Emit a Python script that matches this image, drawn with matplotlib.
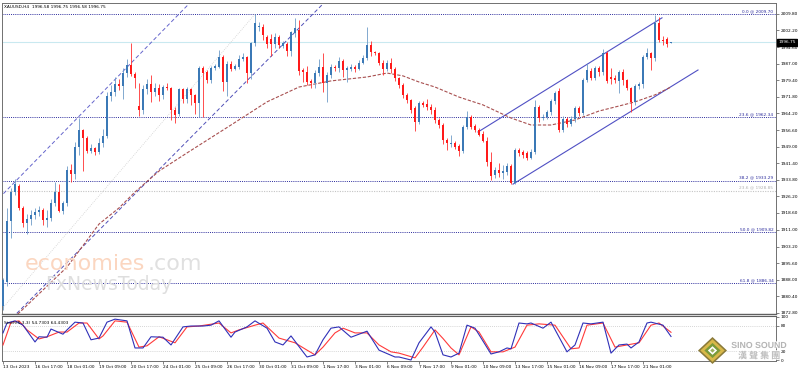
import matplotlib
matplotlib.use("Agg")
import matplotlib.pyplot as plt
import matplotlib.patheffects as pe
import matplotlib.transforms as mtransforms
from matplotlib.patches import Polygon
import numpy as np

plt.rcParams['font.family'] = ['DejaVu Sans']

# ---------------- data ----------------
opens = [
    1876, 1887, 1915, 1928, 1931, 1921, 1914, 1916, 1917.5, 1919,
    1920, 1915.5, 1916.5, 1923, 1928, 1919.5, 1923, 1938.5, 1936.5, 1949,
    1956.5, 1953, 1947, 1948.5, 1946.5, 1950.5, 1953.8, 1972, 1974, 1977.6,
    1976.7, 1982.8, 1986.4, 1982.3, 1967.5, 1966, 1975.5, 1977.5, 1974, 1976,
    1972.5, 1976.2, 1975.8, 1966, 1964, 1975.5, 1970.8, 1975.5, 1972.5, 1969,
    1985, 1983, 1979.5, 1985, 1985.5, 1990, 1978.8, 1987, 1984.5, 1985.5,
    1989, 1990, 1982.5, 1996.5, 2003.8, 2004, 1999, 1998.5, 1996, 1999,
    1995, 1996, 1992.8, 2001, 2002.5, 1984, 1983, 1979, 1978, 1982.7,
    1985.5, 1978, 1981.8, 1985.5, 1984.8, 1988, 1984.3, 1984.5, 1985.5, 1984.5,
    1987.5, 1989.6, 1995.5, 1992.3, 1991.8, 1987.5, 1984.5, 1987.5, 1984.5, 1980.5,
    1977.2, 1972.6, 1970.4, 1966.5, 1960.3, 1969, 1968.5, 1967, 1966, 1961.2,
    1959, 1952, 1950, 1950.8, 1949.5, 1947, 1958, 1962.6, 1958.5, 1956.6,
    1955, 1951.6, 1942, 1936, 1938.3, 1937, 1937.5, 1940, 1932.5, 1947.5,
    1946.5, 1946, 1944, 1946.5, 1967, 1962, 1962.5, 1964.8, 1969.8, 1974.5,
    1956.6, 1961.5, 1959.5, 1961.5, 1966.7, 1964.5, 1979.5, 1983.5, 1980.5, 1985,
    1983, 1992, 1981, 1980.5, 1979, 1983, 1979.5, 1975.8, 1969.3, 1976.8,
    1977.5, 1990, 1992, 1989.5, 2005.8, 1998, 1998.5, 1996.58]
highs = [
    1889, 1921, 1930, 1934, 1932, 1922, 1918, 1920, 1921, 1922,
    1921, 1920, 1925, 1933, 1932, 1924, 1940, 1941, 1951, 1962,
    1957, 1954, 1950, 1949, 1953, 1957, 1974, 1977, 1981, 1980,
    1985, 1989, 1996.5, 1983, 1978, 1977, 1980, 1982, 1978, 1977.5,
    1977, 1978, 1976.5, 1967, 1976, 1976, 1976.5, 1976, 1973, 1986,
    1986, 1984, 1986, 1987, 1993.3, 1991, 1988, 1988, 1987, 1991,
    1992, 1990.5, 1997, 2009.7, 2006, 2005, 2000, 2000.5, 2001, 2000,
    1997.5, 1997, 2002, 2008, 2007, 1985, 1986, 1980, 1984, 1989,
    1992, 1983, 1987, 1986.5, 1990, 1989, 1986, 1987, 1986.5, 1988.5,
    1991, 2004, 1997.5, 1993, 1992.5, 1988.5, 1988.5, 1989.5, 1985.5, 1981,
    1978, 1973.5, 1971, 1967.5, 1970, 1970, 1971, 1968.5, 1967, 1962,
    1960, 1953, 1954.5, 1951.5, 1950, 1959, 1965.5, 1963.5, 1959.5, 1957.5,
    1956, 1953.5, 1946.5, 1939.5, 1941.5, 1940.5, 1941.5, 1941, 1948.5, 1948.5,
    1947.5, 1947, 1948, 1970.5, 1968, 1964, 1966, 1971, 1974.5, 1976,
    1963, 1962.5, 1963, 1967.5, 1967.5, 1980.5, 1987.3, 1985, 1986, 1986,
    1993.5, 1993, 1985, 1982, 1984, 1984.5, 1980, 1976.5, 1977.5, 1978.5,
    1991, 1994, 1992.5, 2009.3, 2008.5, 1999.5, 1999, 1996.75]
lows = [
    1874, 1885, 1907, 1927, 1920, 1912, 1909, 1913, 1916, 1917,
    1913, 1912, 1915, 1922, 1919, 1918, 1922, 1933, 1934, 1945,
    1938, 1946, 1946, 1945, 1945.5, 1949, 1953, 1970, 1972, 1975,
    1971, 1981, 1981.5, 1976, 1963, 1964, 1973, 1969.5, 1972, 1970,
    1971, 1975, 1961, 1959.7, 1963, 1969, 1969, 1968, 1964, 1962.5,
    1962.5, 1978, 1978, 1984, 1985, 1974.5, 1972, 1983.5, 1984, 1984.5,
    1988, 1978, 1980, 1995, 2002, 1998, 1994, 1990.5, 1994, 1994,
    1994, 1990.5, 1990.5, 1999, 1982, 1978.6, 1977, 1976, 1976, 1981.5,
    1974, 1969.5, 1980.5, 1983.5, 1983, 1981, 1978.6, 1983.5, 1983, 1984,
    1987, 1988.5, 1990.5, 1991, 1986.5, 1982, 1983.5, 1982.5, 1979, 1976,
    1971.5, 1969, 1964.5, 1956, 1959.5, 1967, 1966, 1964, 1960, 1957.5,
    1950, 1947.5, 1948.7, 1948, 1944.5, 1946, 1957, 1957, 1955.5, 1954,
    1951, 1940, 1933.7, 1934.5, 1935, 1934, 1936, 1932, 1931.8, 1944.5,
    1944, 1943, 1943.5, 1945.5, 1960.5, 1961, 1961.5, 1963.5, 1968.5, 1955.5,
    1955.5, 1958, 1958.5, 1960.5, 1963, 1963.5, 1978.5, 1979.5, 1979.5, 1981.5,
    1982, 1978, 1977.6, 1978, 1973.5, 1977, 1975, 1965, 1968, 1975.5,
    1976, 1989, 1984, 1988, 1997, 1995.5, 1994.5, 1996.58]
closes = [
    1888, 1915, 1928, 1932, 1921, 1914, 1916, 1917.5, 1919, 1920,
    1915.5, 1916.5, 1923, 1928, 1919.5, 1923, 1938.5, 1936.5, 1949, 1956.5,
    1953, 1947, 1948.5, 1946.5, 1950.5, 1953.8, 1972, 1974, 1977.6, 1976.7,
    1982.8, 1986.4, 1982.3, 1980.5, 1966, 1975.5, 1977.5, 1974, 1976, 1972.5,
    1976.2, 1975.8, 1966, 1963.5, 1975.5, 1970.8, 1975.5, 1972.5, 1969, 1985,
    1982.5, 1979.5, 1985, 1986, 1990, 1978.8, 1987, 1984.5, 1986, 1989,
    1990, 1982.5, 1996.5, 2005.6, 2004.3, 2000, 1996, 1996, 1999, 1995.5,
    1996.5, 1992.8, 2001.4, 2003.5, 1983.6, 1983, 1978.8, 1978, 1982.7, 1985.5,
    1978, 1981.8, 1985.5, 1984.8, 1988, 1984.3, 1984.8, 1985.5, 1984.5, 1987.5,
    1989.6, 1995.5, 1992.3, 1991.8, 1987.5, 1984.5, 1987.5, 1984.5, 1980.5, 1977.2,
    1972.6, 1970.4, 1965.8, 1960.3, 1969, 1968, 1967, 1966, 1961.2, 1959,
    1952, 1950.5, 1950.8, 1949, 1947, 1958, 1962.6, 1958, 1956.5, 1954.5,
    1951.6, 1942, 1935.5, 1938.3, 1937, 1938, 1940, 1932.5, 1947.5, 1946,
    1945, 1944, 1946.5, 1967, 1962, 1962.5, 1964.8, 1969.8, 1973.5, 1956.6,
    1961.5, 1959.5, 1961.5, 1966.7, 1964.5, 1979.5, 1984, 1980.5, 1985, 1983,
    1992, 1979, 1980, 1979.6, 1983, 1979.5, 1975.8, 1969.3, 1976.8, 1977.5,
    1990, 1992, 1989.5, 2005.8, 1998, 1997.5, 1996, 1996.75]

# moving average (read at selected bars)
ma_bars = [0, 4, 16, 24, 29, 33, 39, 46, 57, 66, 74, 82, 91, 96, 100, 104, 108,
           114, 120, 127, 132, 137, 143, 149, 154, 158, 163, 167]
ma_vals = [1866, 1872.8, 1893.8, 1913.5, 1920.9, 1928.2, 1937.8, 1946.1, 1958.9,
           1969.5, 1976.3, 1979.1, 1980.9, 1982.7, 1981.4, 1978.6, 1976.3, 1971.7,
           1968.1, 1962.1, 1958.9, 1958.9, 1961.2, 1965.3, 1967.6, 1969.5, 1972.7,
           1976.3]

# stochastic oscillator (read at selected bars)
stoch_main_bars = [0, 1, 3, 5, 8, 9, 11, 12, 15, 16, 18, 20, 22, 24, 26, 28, 31, 33, 35, 37,
                   40, 42, 45, 47, 50, 52, 54, 57, 58, 61, 63, 66, 68, 70, 72, 75, 76, 78, 80, 82,
                   84, 87, 91, 94, 98, 99, 102, 104, 107, 108, 110, 112, 114, 116, 118, 122, 124,
                   126, 127, 129, 131, 132, 135, 137, 141, 143, 145, 147, 150, 152, 154, 156, 157,
                   159, 161, 162, 165, 167]
stoch_main_vals = [63, 86, 91, 81, 42, 54, 53, 72, 60, 70, 88, 86, 47, 51, 88, 95, 91, 28, 28, 54,
                   53, 35, 77, 79, 79, 81, 91, 53, 65, 77, 91, 74, 42, 35, 56, 19, 7, 12, 47, 74,
                   77, 53, 67, 23, 7, 7, 0, 40, 77, 65, 12, 7, 16, 81, 74, 14, 19,
                   28, 26, 86, 84, 86, 74, 88, 19, 35, 86, 84, 88, 16, 35, 37, 28,
                   42, 86, 88, 81, 54.73]
stoch_sig_bars = [0, 2, 4, 6, 9, 11, 14, 16, 19, 21, 24, 25, 28, 31, 34, 36, 39, 43, 46, 49,
                  54, 57, 59, 63, 65, 69, 73, 76, 78, 80, 83, 85, 88, 91, 94, 97, 99, 103, 105, 108,
                  110, 112, 114, 117, 119, 122, 125, 128, 131, 134, 138, 142, 144, 146, 150, 153,
                  156, 159, 162, 164, 167]
stoch_sig_vals = [35, 88, 91, 70, 49, 54, 65, 65, 86, 86, 49, 56, 91, 88, 30, 33, 54, 40, 77, 79,
                  86, 63, 70, 81, 86, 51, 40, 23, 12, 30, 63, 74, 63, 63, 35, 19, 16, 5, 30, 70,
                  50, 28, 12, 77, 65, 19, 19, 30, 81, 84, 81, 26, 28, 81, 86, 30,
                  35, 40, 81, 86, 64.43]

# fibonacci levels
fib_prices = [2009.70, 1962.34, 1933.29, 1909.82, 1886.34]
fib_labels = ["0.0 @ 2009.70", "23.6 @ 1962.34", "38.2 @ 1933.29", "50.0 @ 1909.82", "61.8 @ 1886.34"]
fib2_prices = [1928.85]
fib2_labels = ["23.6 @ 1928.85"]

# channel / trend anchors (bar, price)
left_up_bars, left_up_prices = [-2, 50], [1923.5, 2021.0]
left_lo_bars, left_lo_prices = [-2, 80], [1862.5, 2014.4]
fib_trend_bars, fib_trend_prices = [-31, 63], [1809.0, 2009.7]
right_up_bars, right_up_prices = [118.75, 164.75], [1955.7, 2008.0]
right_lo_bars, right_lo_prices = [127.5, 173.75], [1931.8, 1984.1]

current_price = 1996.75
price_ticks = [2009.80, 2002.20, 1994.60, 1987.00, 1979.40, 1971.80, 1964.20, 1956.60,
               1949.00, 1941.40, 1933.80, 1926.20, 1918.60, 1911.00, 1903.20, 1895.60,
               1888.00, 1880.40, 1872.80]
date_bars = list(range(0, 161, 8))
date_labels = ["13 Oct 2023", "16 Oct 17:00", "18 Oct 01:00", "19 Oct 09:00", "20 Oct 17:00",
               "24 Oct 01:00", "25 Oct 09:00", "26 Oct 17:00", "30 Oct 01:00", "31 Oct 09:00",
               "1 Nov 17:00", "3 Nov 01:00", "6 Nov 09:00", "7 Nov 17:00", "9 Nov 01:00",
               "10 Nov 09:00", "13 Nov 17:00", "15 Nov 01:00", "16 Nov 09:00", "17 Nov 17:00",
               "21 Nov 01:00"]
stoch_ticks = [0, 20, 80, 100]

# ---------------- figure ----------------
W, H = 798, 372
fig = plt.figure(figsize=(W / 100, H / 100), dpi=100)
fig.patch.set_facecolor('white')


def box(x0, y0, x1, y1):
    return [x0 / W, 1 - y1 / H, (x1 - x0) / W, (y1 - y0) / H]


ax = fig.add_axes(box(2, 3, 776, 314))
axs = fig.add_axes(box(2, 316, 776, 361))
XMIN, XMAX = -0.25, 193.25
for a in (ax, axs):
    a.set_xlim(XMIN, XMAX)
    a.set_facecolor('white')
    for s in a.spines.values():
        s.set_color('#707070')
        s.set_linewidth(0.7)
ax.spines['bottom'].set_linewidth(1.0)
ax.spines['bottom'].set_color('#606060')
axs.spines['top'].set_linewidth(0.8)
axs.spines['top'].set_color('#606060')
ax.set_ylim(1872.3, 2014.8)
axs.set_ylim(-2.3, 102.3)

TS = 3.1
navy = '#2a2a9c'

# fibonacci horizontal lines
for p, lab in zip(fib_prices, fib_labels):
    ax.axhline(p, color=navy, lw=0.7, ls=(0, (1.0, 1.2)), zorder=1)
    ax.text(192.6, p + 0.5, lab, ha='right', va='bottom', fontsize=TS, color=navy, zorder=6)
for p, lab in zip(fib2_prices, fib2_labels):
    ax.axhline(p, color='#c4c4c4', lw=0.8, ls=(0, (1.0, 1.2)), zorder=1)
    ax.text(192.6, p + 0.5, lab, ha='right', va='bottom', fontsize=TS, color='#b0b0b0', zorder=6)

# current price line
ax.axhline(current_price, color='#c9e9f0', lw=0.8, zorder=1)

# trend lines / channels
ax.plot(fib_trend_bars, fib_trend_prices, color='#d0d0d0', lw=0.6, ls=(0, (1, 1.5)), zorder=1)
ax.plot(left_up_bars, left_up_prices, color='#6565cc', lw=0.7, ls=(0, (4, 2.5)), zorder=2)
ax.plot(left_lo_bars, left_lo_prices, color='#5050b8', lw=0.7, ls=(0, (4, 2.5)), zorder=2)
ax.plot(right_up_bars, right_up_prices, color='#5050c4', lw=0.8, zorder=2)
ax.plot(right_lo_bars, right_lo_prices, color='#5050c4', lw=0.8, zorder=2)

# moving average
ax.plot(ma_bars, ma_vals, color='#a85050', lw=0.8, ls=(0, (3, 1.5)), zorder=2)

# candles
o = np.array(opens); h = np.array(highs); l = np.array(lows); c = np.array(closes)
xs = np.arange(len(c))
up = c >= o
body_col = np.where(up, '#3b79b6', '#ff1a1a')
wick_col = np.where(up, '#6e9bc8', '#ff3030')
ax.vlines(xs, l, h, colors=wick_col, lw=0.6, zorder=3)
ax.bar(xs, np.maximum(np.abs(c - o), 0.35), bottom=np.minimum(o, c), width=0.72,
       color=body_col, lw=0, zorder=4)

# price axis
ax.yaxis.tick_right()
ax.set_yticks(price_ticks)
ax.set_yticklabels([f"{v:.2f}" for v in price_ticks])
ax.tick_params(axis='y', length=2, width=0.5, labelsize=TS, pad=1.5, color='#505050')
ax.set_xticks([])
trans = mtransforms.blended_transform_factory(ax.transAxes, ax.transData)
ax.text(1.003, current_price, f"{current_price:.2f}", transform=trans, ha='left', va='center',
        fontsize=TS, color='white', zorder=10,
        bbox=dict(boxstyle='square,pad=0.3', fc='black', ec='black'))

# header
fig.text(4 / W, 1 - 7 / H, "XAUUSD,H4  1996.58 1996.75 1996.58 1996.75", fontsize=TS,
         va='center', ha='left', color='black')

# watermarks
fig.text(25 / W, 1 - 270 / H, "economies", fontsize=16, color='#fbd6c0', ha='left',
         va='baseline', zorder=0)
fig.text(148 / W, 1 - 270 / H, ".com", fontsize=16, color='#e0e0e0', ha='left',
         va='baseline', zorder=0)
fig.text(45 / W, 1 - 290 / H, "FxNewsToday", fontsize=13.5, color='#dedede', ha='left',
         va='baseline', zorder=0)

# stochastic panel
axs.axhline(80, color='#c8c8c8', lw=0.6, ls=(0, (1, 1.5)))
axs.axhline(20, color='#c8c8c8', lw=0.6, ls=(0, (1, 1.5)))
axs.plot(stoch_sig_bars, stoch_sig_vals, color='#ff3a3a', lw=0.8, zorder=3)
axs.plot(stoch_main_bars, stoch_main_vals, color='#3030b8', lw=0.8, zorder=4)
axs.yaxis.tick_right()
axs.set_yticks(stoch_ticks)
axs.set_yticklabels([str(v) for v in stoch_ticks])
axs.tick_params(axis='y', length=2, width=0.5, labelsize=TS, pad=1.5, color='#505050')
axs.set_xticks(date_bars)
axs.set_xticklabels(date_labels, ha='left')
axs.tick_params(axis='x', length=2, width=0.5, labelsize=TS, pad=1.0, color='#505050')
axs.text(0.003, 0.9, "Stoch(5,3,3) 54.7303 64.4303", transform=axs.transAxes, fontsize=TS,
         va='top', ha='left', color='black', zorder=6)

# SINO SOUND logo
la = fig.add_axes(box(698, 337, 727, 364))
la.set_xlim(0, 1); la.set_ylim(0, 1); la.axis('off')
la.add_patch(Polygon([[0.5, 0], [1, 0.5], [0.5, 1], [0, 0.5]], closed=True, fc='#8a7a3a', ec='none'))
la.add_patch(Polygon([[0.5, 0.08], [0.92, 0.5], [0.5, 0.92], [0.08, 0.5]], closed=True, fc='#d8b84a', ec='none'))
la.add_patch(Polygon([[0.5, 0.22], [0.78, 0.5], [0.5, 0.78], [0.22, 0.5]], closed=True, fc='#7a9a3a', ec='none'))
la.add_patch(Polygon([[0.5, 0.34], [0.66, 0.5], [0.5, 0.66], [0.34, 0.5]], closed=True, fc='white', ec='none'))
la.add_patch(Polygon([[0.5, 0.42], [0.58, 0.5], [0.5, 0.58], [0.42, 0.5]], closed=True, fc='#9ab05a', ec='none'))
stroke = [pe.withStroke(linewidth=1.2, foreground='white')]
fig.text(759 / W, 1 - 345.5 / H, "SINO SOUND", fontsize=6.3, fontweight='bold',
         family=['Liberation Sans', 'DejaVu Sans'], color='#b5b5b5', ha='center', va='center',
         path_effects=stroke, zorder=20)
fig.text(759 / W, 1 - 356 / H, "漢 聲 集 團", fontsize=6.5, fontweight='bold',
         family=['Noto Sans CJK TC', 'DejaVu Sans'], color='#bdbdbd', ha='center', va='center',
         path_effects=stroke, zorder=20)

fig.savefig("out.png", dpi=100, facecolor='white')
